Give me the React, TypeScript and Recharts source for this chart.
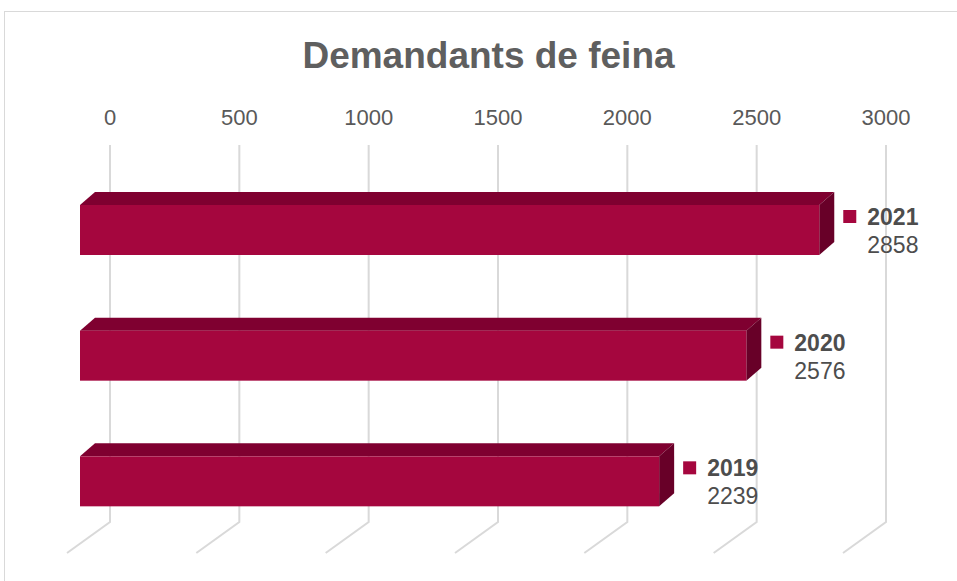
import { BarChart, Bar, XAxis, YAxis, CartesianGrid } from "recharts";

const years = ["2021", "2020", "2019"];
const demandants = [2858, 2576, 2239];
const xTicks = [0, 500, 1000, 1500, 2000, 2500, 3000];

const rows = years.map((year, i) => ({ year, value: demandants[i] }));

const FRONT = "#a5063e";
const TOP = "#7f0030";
const SIDE = "#680028";
const GRID = "#d9d9d9";
const TEXT = "#595959";
const FONT = "'Liberation Sans', Arial, sans-serif";

// back wall line + floor line going toward the viewer
const gridLine = (props: any) => {
  const { x1, y1, x2, y2 } = props;
  return (
    <path
      key={`g-${x1}`}
      d={`M${x1},${y1} L${x2},${y2} L${x2 - 43},${y2 + 31}`}
      stroke={GRID}
      strokeWidth={2}
      fill="none"
    />
  );
};

// fake 3D bar: front face pushed 30px toward the viewer
const Bar3D = (props: any) => {
  const { x, y, width, payload } = props;
  const fx = x - 30;
  const fy = y + 22;
  const h = 50;
  const dx = 15;
  const dy = -13;
  const right = x + width;
  return (
    <g>
      <polygon
        points={`${fx},${fy} ${fx + dx},${fy + dy} ${fx + dx + width},${fy + dy} ${fx + width},${fy}`}
        fill={TOP}
      />
      <polygon
        points={`${fx + width},${fy} ${fx + width + dx},${fy + dy} ${fx + width + dx},${fy + dy + h} ${fx + width},${fy + h}`}
        fill={SIDE}
      />
      <rect x={fx} y={fy} width={width} height={h} fill={FRONT} />
      <rect x={right - 6} y={y + 27} width={13} height={13} fill={FRONT} />
      <text x={right + 18} y={y + 42} fontSize={23} fontWeight="bold" fill="#4d4d4d" fontFamily={FONT}>
        {payload.year}
      </text>
      <text x={right + 18} y={y + 70} fontSize={23} fill="#4d4d4d" fontFamily={FONT}>
        {payload.value}
      </text>
    </g>
  );
};

export default function App() {
  return (
    <div style={{ position: "absolute", left: 0, top: 0, width: 957, height: 581, overflow: "hidden", background: "#fff" }}>
      <div
        style={{
          position: "absolute",
          left: 4,
          top: 11,
          width: 980,
          height: 600,
          border: `1px solid ${GRID}`,
        }}
      />
      <div
        style={{
          position: "absolute",
          left: 0,
          top: 35,
          width: 977,
          textAlign: "center",
          fontFamily: FONT,
          fontWeight: "bold",
          fontSize: 37,
          color: "#5f5f5f",
        }}
      >
        Demandants de feina
      </div>
      <div style={{ position: "absolute", left: 0, top: 0 }}>
        <BarChart
          width={957}
          height={581}
          data={rows}
          layout="vertical"
          margin={{ top: 85, right: 71, bottom: 59, left: 110 }}
        >
          <CartesianGrid horizontal={false} vertical={gridLine} />
          <XAxis
            type="number"
            domain={[0, 3000]}
            ticks={xTicks}
            orientation="top"
            height={60}
            axisLine={false}
            tickLine={false}
            tickSize={0}
            tickMargin={20}
            interval={0}
            tick={{ fill: TEXT, fontSize: 22, fontFamily: FONT }}
          />
          <YAxis type="category" dataKey="year" hide width={0} />
          <Bar dataKey="value" barSize={50} shape={Bar3D} isAnimationActive={false} />
        </BarChart>
      </div>
    </div>
  );
}
